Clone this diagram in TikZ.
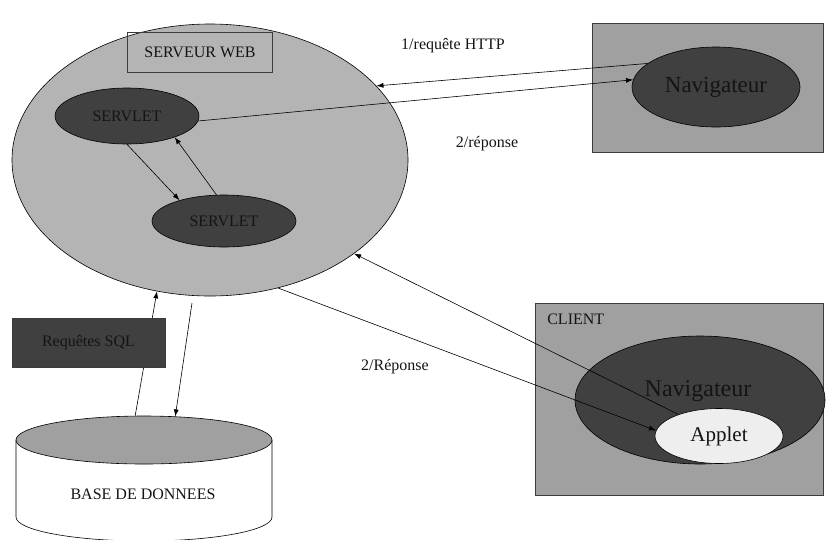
\documentclass[tikz,border=0pt]{standalone}
\usepackage{fontspec}
\setmainfont{Liberation Serif}
\usetikzlibrary{shapes.geometric,arrows.meta}
\definecolor{srvgray}{RGB}{180,180,180}
\definecolor{boxgray}{RGB}{160,160,160}
\definecolor{darkfill}{RGB}{64,64,64}
\definecolor{appletfill}{RGB}{238,238,238}
\definecolor{edgegray}{RGB}{60,60,60}
\definecolor{ink}{RGB}{20,20,20}

\begin{document}
\begin{tikzpicture}[x=1pt,y=-1pt,line width=0.6pt,
  blob/.style={ellipse,draw=black,inner sep=0pt,text=ink},
  panel/.style={rectangle,draw=edgegray,fill=boxgray,inner sep=0pt},
  arr/.style={-{Latex[length=7pt,width=5pt]},line width=0.6pt},
  lbl/.style={font=\fontsize{16}{18}\selectfont,text=ink,inner sep=0pt},
  big/.style={font=\fontsize{24}{26}\selectfont,text=ink,inner sep=0pt}]

\useasboundingbox (0,0) rectangle (826,539);

% web server
\node[blob,fill=srvgray,minimum width=396pt,minimum height=272pt] (srv) at (210,160) {};
\node[rectangle,draw=edgegray,minimum width=145pt,minimum height=40pt,lbl] (srvtitle) at (200,52) {SERVEUR WEB};
\node[blob,fill=darkfill,minimum width=144pt,minimum height=56pt,lbl] (s1) at (127,116) {SERVLET};
\node[blob,fill=darkfill,minimum width=144pt,minimum height=52pt,lbl] (s2) at (224,221) {SERVLET};

% browser, top right
\node[panel,minimum width=231pt,minimum height=129pt] (nav1box) at (707.5,87.5) {};
\node[blob,fill=darkfill,minimum width=168pt,minimum height=80pt,font=\fontsize{23}{25}\selectfont] (nav1) at (716,87) {Navigateur};

% client with applet
\node[panel,minimum width=288pt,minimum height=192pt] (client) at (679,399) {};
\node[lbl,anchor=west] (clientlbl) at (547,319) {CLIENT};
\node[blob,fill=darkfill,minimum width=250pt,minimum height=128pt] (nav2) at (700,400) {};
\node[big] (nav2lbl) at (698,391) {Navigateur};
\node[blob,fill=appletfill,minimum width=128pt,minimum height=55pt,font=\fontsize{21}{23}\selectfont] (applet) at (719,436) {Applet};

% database
\draw[fill=white] (16,440) -- (16,517)
  arc[start angle=180,end angle=360,x radius=128pt,y radius=24pt] -- (272,440) -- cycle;
\node[blob,fill=boxgray,minimum width=256pt,minimum height=48pt] (dbtop) at (144,440) {};
\node[lbl] (dblbl) at (143,494) {BASE DE DONNEES};

% labels
\node[lbl] (l1) at (453,46) {1/requête HTTP};
\node[lbl] (l2) at (487,144) {2/réponse};
\node[lbl] (l3) at (395,367) {2/Réponse};

% connectors
\draw[arr] (s1.south) -- (s2.155);
\draw[arr] (s2.106) -- (s1.-24);
\draw[arr] (nav1.161) -- (srv.24);
\draw[arr] (s1.-4) -- (nav1.175);
\draw[arr] (srv.-62) -- (applet.175);
\draw[arr] (applet.152) -- (srv.-33);
\coordinate (sqlout) at (192,303);
\draw[arr] (dbtop.110) -- (srv.-112);
\draw[arr] (sqlout) -- (dbtop.37);

% SQL box sits over the upward arrow
\node[rectangle,draw=edgegray,fill=darkfill,minimum width=153pt,minimum height=49pt,lbl] (sql) at (88.5,342.5) {Requêtes SQL};
\end{tikzpicture}
\end{document}
